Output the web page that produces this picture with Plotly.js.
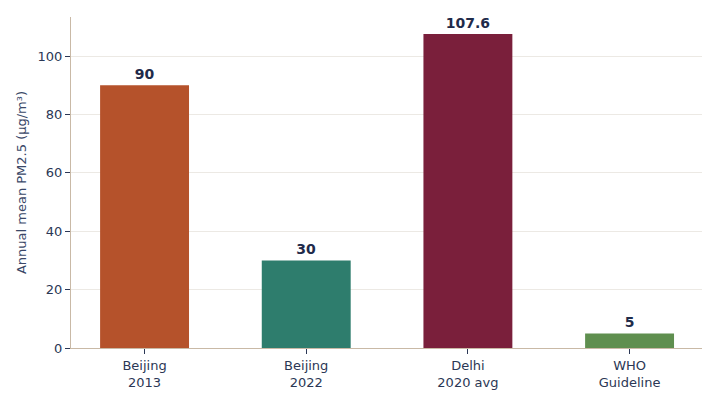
<!DOCTYPE html>
<html>
<head>
<meta charset="utf-8">
<script src="https://cdn.plot.ly/plotly-3.0.1.min.js"></script>
<style>
  html, body { margin: 0; padding: 0; background: #fff; }
  #graph { width: 719px; height: 404px; }
</style>
</head>
<body>
<div id="graph"></div>
<script>
// categories and annual PM2.5 values
var places = ["Beijing<br>2013", "Beijing<br>2022", "Delhi<br>2020 avg", "WHO<br>Guideline"]
var pm25 = [90, 30, 107.6, 5]
var barLabels = ["90", "30", "107.6", "5"]
var barColors = ["#b5522b", "#2e7d6d", "#7a1f3b", "#5f8f4f"]

var trace = {
    x: places,
    y: pm25,
    type: "bar",
    marker: { color: barColors },
    text: barLabels,
    textposition: "outside",
    cliponaxis: false,
    textfont: { family: "DejaVu Sans", size: 14, color: "#1f2b4a", weight: "bold" },
    hoverinfo: "none"
}

var layout = {
    width: 719,
    height: 404,
    margin: { l: 71, r: 17, t: 17, b: 56 },
    paper_bgcolor: "#fff",
    plot_bgcolor: "#fff",
    bargap: 0.45,
    showlegend: false,
    font: { family: "DejaVu Sans", size: 13, color: "#2b3755" },
    xaxis: {
        range: [-0.455, 3.448],
        showline: true,
        linecolor: "#c9b9a6",
        ticks: "outside",
        ticklen: 5,
        tickcolor: "#2b3755",
        tickfont: { size: 13, color: "#2b3755" },
        showgrid: false
    },
    yaxis: {
        range: [0, 113.4],
        dtick: 20,
        showline: true,
        linecolor: "#c9b9a6",
        ticks: "outside",
        ticklen: 5,
        tickcolor: "#2b3755",
        tickfont: { size: 13, color: "#2b3755" },
        gridcolor: "#ece9e4",
        zeroline: false,
        title: { text: "Annual mean PM2.5 (μg/m³)", font: { size: 13, color: "#3a4868" }, standoff: 8 }
    }
}

Plotly.newPlot("graph", [trace], layout, { displayModeBar: false, staticPlot: true })
</script>
</body>
</html>
